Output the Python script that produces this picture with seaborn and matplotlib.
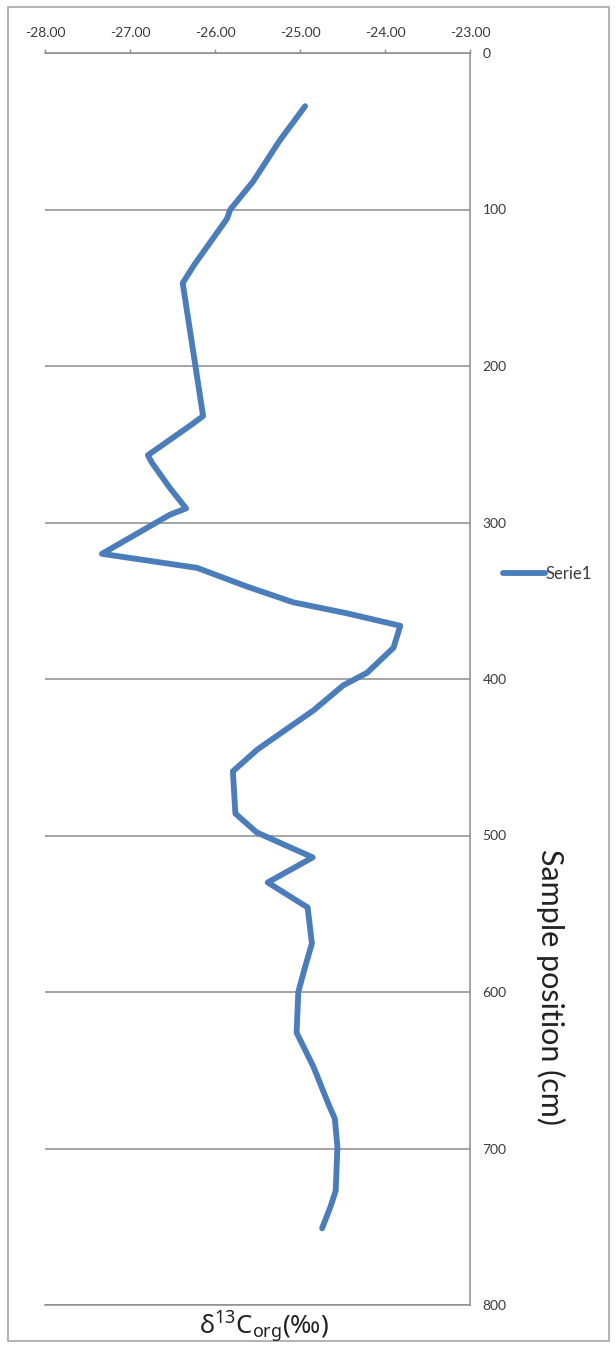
import matplotlib
matplotlib.use("Agg")
import matplotlib.pyplot as plt
import seaborn as sns
import pandas as pd
from matplotlib.ticker import FormatStrFormatter
from matplotlib.patches import Rectangle

# Core profile: sample depth (cm) and organic carbon isotope values (per mil)
depth_cm = [34, 56, 82, 100, 106, 135, 147, 232, 238, 257, 262, 278, 291, 295,
            320, 329, 341, 351, 358, 366, 380, 396, 404, 420, 445, 459, 486,
            498, 514, 530, 546, 569, 584, 600, 626, 648, 671, 681, 699, 727,
            737, 751]
d13c_org = [-24.94, -25.24, -25.55, -25.82, -25.86, -26.24, -26.38, -26.14,
            -26.29, -26.79, -26.74, -26.53, -26.34, -26.53, -27.33, -26.21,
            -25.62, -25.08, -24.45, -23.82, -23.90, -24.21, -24.49, -24.84,
            -25.50, -25.79, -25.76, -25.51, -24.85, -25.38, -24.91, -24.86,
            -24.94, -25.02, -25.04, -24.84, -24.67, -24.59, -24.56, -24.58,
            -24.64, -24.74]
x_ticks = [-28, -27, -26, -25, -24, -23]
y_ticks = [0, 100, 200, 300, 400, 500, 600, 700, 800]
series_name = "Serie1"
x_title = r"$\mathregular{δ^{13}C_{org}(‰)}$"
y_title = "Sample position (cm)"

BLUE = "#4A7DBA"
GREY = "#8C8C8C"
TEXT = "#3A3A3A"

sns.set_style("white")
plt.rcParams["font.family"] = ["Lato", "DejaVu Sans"]

W, H = 615, 1347
fig = plt.figure(figsize=(W / 100, H / 100), dpi=100)
fig.patch.set_facecolor("white")

ax_left, ax_right, ax_top, ax_bottom = 45, 470, 53, 1305
ax = fig.add_axes([ax_left / W, 1 - ax_bottom / H,
                   (ax_right - ax_left) / W, (ax_bottom - ax_top) / H])

df = pd.DataFrame({"d13c": d13c_org, "depth": depth_cm})
sns.lineplot(data=df, x="d13c", y="depth", sort=False, estimator=None,
             orient="y", color=BLUE, lw=4.2, label=series_name, ax=ax,
             solid_joinstyle="round", solid_capstyle="round")

ax.set_xlim(x_ticks[0], x_ticks[-1])
ax.set_ylim(y_ticks[-1], y_ticks[0])
ax.xaxis.tick_top()
ax.yaxis.tick_right()
ax.set_xticks(x_ticks)
ax.xaxis.set_major_formatter(FormatStrFormatter("%.2f"))
ax.set_yticks(y_ticks)
ax.set_xlabel("")
ax.set_ylabel("")

ax.tick_params(axis="x", direction="out", length=3, width=1, color=GREY,
               labelsize=10, labelcolor=TEXT, pad=7,
               top=True, bottom=False, labeltop=True, labelbottom=False)
ax.tick_params(axis="y", length=0, pad=9, labelsize=10, labelcolor=TEXT,
               right=True, left=False, labelright=True, labelleft=False)

ax.grid(False)
ax.yaxis.grid(True, color=GREY, lw=1.1)

ax.spines["left"].set_visible(False)
for side in ("top", "right", "bottom"):
    ax.spines[side].set_color(GREY)
    ax.spines[side].set_linewidth(1.1)

leg = ax.legend(loc="center left", bbox_to_anchor=(503 / W, 1 - 574 / H),
                bbox_transform=fig.transFigure, frameon=False, fontsize=12,
                handlelength=2.5, handletextpad=0.05, borderpad=0,
                borderaxespad=0)
for t in leg.get_texts():
    t.set_color(TEXT)

fig.text(551 / W, 1 - 987 / H, y_title, rotation=-90, ha="center",
         va="center", fontsize=22, color="#222222")
fig.text(264 / W, 1 - 1327 / H, x_title, ha="center", va="center",
         fontsize=18.5, color="#222222", fontfamily="Noto Sans")

fig.patches.append(Rectangle((8 / W, 1 - 1341 / H), 601 / W, 1334 / H,
                             transform=fig.transFigure, fill=False,
                             ec="#A6A6A6", lw=1.2))

fig.savefig("out.png", dpi=100, facecolor="white")
